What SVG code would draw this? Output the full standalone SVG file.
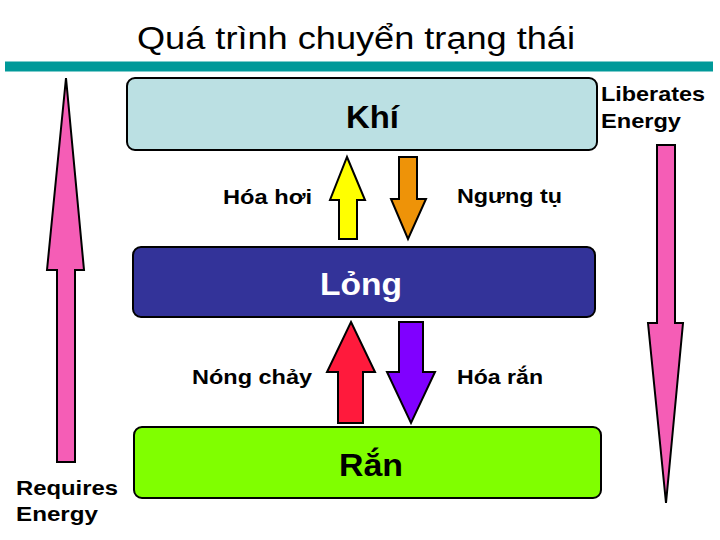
<svg xmlns="http://www.w3.org/2000/svg" width="720" height="540" viewBox="0 0 720 540">
<style>
text{font-family:"Liberation Sans",Arial,sans-serif;}
.box{stroke:#000;stroke-width:2;}
.arr{stroke:#000;stroke-width:2;stroke-linejoin:miter;}
.lbl{font-size:21px;font-weight:bold;fill:#000;}
.big{font-size:32px;font-weight:bold;}
.pink{fill:#f55db6;}
</style>
<rect width="720" height="540" fill="#fff"/>
<g id="title">
<text x="137" y="49" font-size="31" textLength="438" lengthAdjust="spacingAndGlyphs">Quá trình chuyển trạng thái</text>
<rect x="5" y="61.5" width="708" height="10" fill="#009999"/>
</g>
<g id="khi">
<rect class="box" x="127" y="78" width="470" height="72" rx="8" fill="#bbe0e3"/>
<text class="big" x="346" y="128" font-size="30" textLength="53" lengthAdjust="spacingAndGlyphs">Khí</text>
</g>
<g id="long">
<rect class="box" x="133" y="247" width="462" height="70" rx="8" fill="#333399"/>
<text class="big" x="320" y="295" fill="#fff" textLength="82" lengthAdjust="spacingAndGlyphs">Lỏng</text>
</g>
<g id="ran">
<rect class="box" x="134" y="427" width="467" height="71" rx="8" fill="#80ff00"/>
<text class="big" x="339" y="476" textLength="64" lengthAdjust="spacingAndGlyphs">Rắn</text>
</g>
<g id="connectors">
<polygon class="arr" fill="#ffff00" points="347,157 365,200 357,200 357,239 339,239 339,200 330,200"/>
<polygon class="arr" fill="#ee9308" points="399,157 417,157 417,199 426,199 408,239 391,199 399,199"/>
<polygon class="arr" fill="#ff1a3c" points="351,322 375,372 363,372 363,423 338,423 338,372 327,372"/>
<polygon class="arr" fill="#8000ff" points="399,322 423,322 423,372 435,372 411,423 387,372 399,372"/>
</g>
<g id="labels">
<text class="lbl" x="223" y="204" textLength="89" lengthAdjust="spacingAndGlyphs">Hóa hơi</text>
<text class="lbl" x="457" y="203" textLength="105" lengthAdjust="spacingAndGlyphs">Ngưng tụ</text>
<text class="lbl" x="192" y="384" textLength="120" lengthAdjust="spacingAndGlyphs">Nóng chảy</text>
<text class="lbl" x="457" y="384" textLength="86" lengthAdjust="spacingAndGlyphs">Hóa rắn</text>
</g>
<g id="requires-energy">
<polygon class="arr pink" points="66,78 84,270 75,270 75,462 57,462 57,270 47,270"/>
<text class="lbl" x="16" y="495" textLength="102" lengthAdjust="spacingAndGlyphs">Requires</text>
<text class="lbl" x="16" y="521" textLength="82" lengthAdjust="spacingAndGlyphs">Energy</text>
</g>
<g id="liberates-energy">
<polygon class="arr pink" points="657,145 675,145 675,323 683,323 666,503 648,323 657,323"/>
<text class="lbl" x="601" y="101" textLength="104" lengthAdjust="spacingAndGlyphs">Liberates</text>
<text class="lbl" x="601" y="128" textLength="80" lengthAdjust="spacingAndGlyphs">Energy</text>
</g>
</svg>
